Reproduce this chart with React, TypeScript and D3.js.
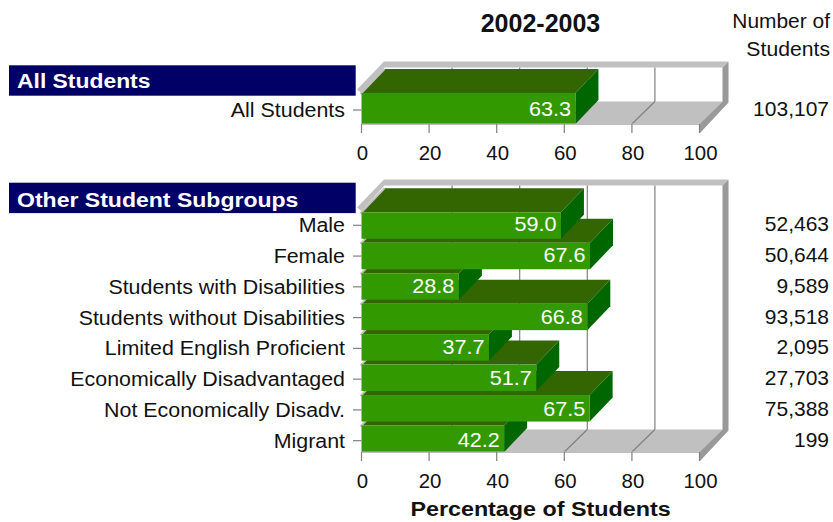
import React from "react";
import * as d3 from "d3";

const summaryCategories = ["All Students"];
const summaryValues = [63.3];
const summaryCounts = ["103,107"];
const subgroupCategories = [
  "Male",
  "Female",
  "Students with Disabilities",
  "Students without Disabilities",
  "Limited English Proficient",
  "Economically Disadvantaged",
  "Not Economically Disadv.",
  "Migrant",
];
const subgroupValues = [59.0, 67.6, 28.8, 66.8, 37.7, 51.7, 67.5, 42.2];
const subgroupCounts = ["52,463", "50,644", "9,589", "93,518", "2,095", "27,703", "75,388", "199"];
const xTicks = [0, 20, 40, 60, 80, 100];

const FONT = "'Liberation Sans', Arial, sans-serif";
const DX = 23;
const BAR_DY = 24;
const FLOOR_DY = 22.5;
const WALL_RISE = 25.5;
const RIM = 6;
const FRONT = "#339900";
const TOP = "#336600";
const SIDE = "#006600";
const WALL = "#c0c0c0";
const WALL_DARK = "#999999";
const GRID = "#808080";
const INK = "#111111";

const x = d3.scaleLinear().domain([0, 100]).range([361.5, 699.5]);

const pts = (p: [number, number][]) => p.map((q) => q.join(",")).join(" ");

type LabelProps = {
  x: number;
  y: number;
  size: number;
  stretch: number;
  anchor?: "start" | "middle" | "end";
  bold?: boolean;
  fill?: string;
  children: React.ReactNode;
};

// Text widened horizontally around its anchor point.
function Label({ x: px, y, size, stretch, anchor = "start", bold, fill = INK, children }: LabelProps) {
  return (
    <text
      transform={`translate(${px},${y}) scale(${stretch},1)`}
      textAnchor={anchor}
      fontSize={size}
      fontWeight={bold ? "bold" : "normal"}
      fill={fill}
    >
      {children}
    </text>
  );
}

type PanelProps = {
  cats: string[];
  vals: number[];
  counts: string[];
  floorY: number;
  topY: number;
  y: d3.ScaleBand<string>;
  tickY: d3.ScalePoint<string>;
};

// One three-dimensional bar panel: walls, floor, gridlines, bars and axis text.
function Panel({ cats, vals, counts, floorY, topY, y, tickY }: PanelProps) {
  const x0 = x(0);
  const x1 = x(100);
  const wallTop = topY - WALL_RISE;
  const floorBack = floorY - FLOOR_DY;
  return (
    <g>
      {/* floor */}
      <polygon
        points={pts([[x0, floorY], [x1, floorY], [x1 + DX, floorBack], [x0 + DX, floorBack]])}
        fill={WALL}
      />
      {/* left edge and top rim of the box */}
      <polygon
        points={pts([
          [x0 - 4.5, topY - 3.5],
          [x0 + DX - 0.5, wallTop - RIM],
          [x1 + DX + RIM, wallTop - RIM],
          [x1 + DX, wallTop],
          [x0 + DX, wallTop],
          [x0, topY],
        ])}
        fill={WALL}
      />
      {/* right wall and front floor lip */}
      <polygon
        points={pts([
          [x1 + DX, wallTop],
          [x1 + DX + RIM, wallTop - RIM],
          [x1 + DX + RIM, floorBack + 1],
          [x1 + 0.5, floorY + 9],
          [x1, floorY],
          [x1 + DX, floorBack],
        ])}
        fill={WALL_DARK}
      />
      {/* gridlines on the back wall and across the floor */}
      {xTicks.slice(1, -1).map((t) => (
        <g key={t} stroke={GRID} strokeWidth={1.2} fill="none">
          <line x1={x(t) + DX} x2={x(t) + DX} y1={wallTop} y2={floorBack} />
          <line x1={x(t) + DX} x2={x(t)} y1={floorBack} y2={floorY} />
        </g>
      ))}
      {/* nearer bars first so the upper ones overlap their top faces */}
      {cats
        .map((c, i) => ({ c, v: vals[i] }))
        .reverse()
        .map(({ c, v }) => {
          const top = y(c)!;
          const bot = top + y.bandwidth();
          const r = x(v);
          return (
            <g key={c}>
              <polygon points={pts([[x0, top], [r, top], [r + DX, top - BAR_DY], [x0 + DX, top - BAR_DY]])} fill={TOP} />
              <line x1={x0 - 1} y1={top + 1} x2={x0 + DX} y2={top - BAR_DY} stroke={WALL} strokeWidth={2} />
              <polygon points={pts([[r, top], [r + DX, top - BAR_DY], [r + DX, bot - BAR_DY], [r, bot]])} fill={SIDE} />
              <rect x={x0} y={top} width={r - x0} height={bot - top} fill={FRONT} />
            </g>
          );
        })}
      {/* front edge and value axis */}
      <rect x={x0 - 0.5} y={floorY - 0.5} width={x1 - x0 + 0.5} height={1.5} fill={WALL} />
      {xTicks.map((t) => (
        <line key={t} x1={x(t)} x2={x(t)} y1={floorY} y2={floorY + 9} stroke={GRID} strokeWidth={1.2} />
      ))}
      {xTicks.map((t) => (
        <Label key={t} x={x(t) + 1} y={floorY + 35.5} size={20} stretch={1.02} anchor="middle">
          {t}
        </Label>
      ))}
      {cats.map((c, i) => {
        const mid = tickY(c)!;
        return (
          <g key={c}>
            <line x1={x0 - 8.5} x2={x0} y1={mid} y2={mid} stroke={GRID} strokeWidth={1.2} />
            <Label x={345} y={mid + 7} size={20} stretch={1.07} anchor="end">
              {c}
            </Label>
            <Label x={x(vals[i]) - 4.5} y={mid + 6} size={20} stretch={1.08} anchor="end" fill="#ffffff">
              {vals[i].toFixed(1)}
            </Label>
            <Label x={829} y={mid + 6} size={20} stretch={1.05} anchor="end">
              {counts[i]}
            </Label>
          </g>
        );
      })}
    </g>
  );
}

export default function App() {
  const yTop = d3.scaleBand<string>().domain(summaryCategories).range([93, 124]);
  const tickTop = d3.scalePoint<string>().domain(summaryCategories).range([110, 110]);
  const yMain = d3
    .scaleBand<string>()
    .domain(subgroupCategories)
    .range([212.3, 452])
    .paddingInner(0.13)
    .paddingOuter(0);
  const tickMain = d3.scalePoint<string>().domain(subgroupCategories).range([225.3, 440.7]);
  return (
    <svg
      width={833}
      height={522}
      viewBox="0 0 833 522"
      style={{ position: "absolute", left: 0, top: 0, background: "#fff" }}
      fontFamily={FONT}
    >
      <Label x={540.5} y={32} size={25} stretch={1} anchor="middle" bold>
        2002-2003
      </Label>
      <Label x={830} y={28} size={20} stretch={1.047} anchor="end">
        Number of
      </Label>
      <Label x={830} y={56} size={20} stretch={1.06} anchor="end">
        Students
      </Label>

      <rect x={9} y={65.3} width={346.7} height={30.4} fill="#000066" />
      <Label x={17} y={88.3} size={21} stretch={1.09} bold fill="#ffffff">
        All Students
      </Label>
      <rect x={9} y={182.7} width={346.7} height={30.4} fill="#000066" />
      <Label x={17} y={206.5} size={21} stretch={1.097} bold fill="#ffffff">
        Other Student Subgroups
      </Label>

      <Panel cats={summaryCategories} vals={summaryValues} counts={summaryCounts} floorY={124} topY={93} y={yTop} tickY={tickTop} />
      <Panel cats={subgroupCategories} vals={subgroupValues} counts={subgroupCounts} floorY={452} topY={211} y={yMain} tickY={tickMain} />

      <Label x={540.5} y={516} size={21} stretch={1.11} anchor="middle" bold>
        Percentage of Students
      </Label>
    </svg>
  );
}
